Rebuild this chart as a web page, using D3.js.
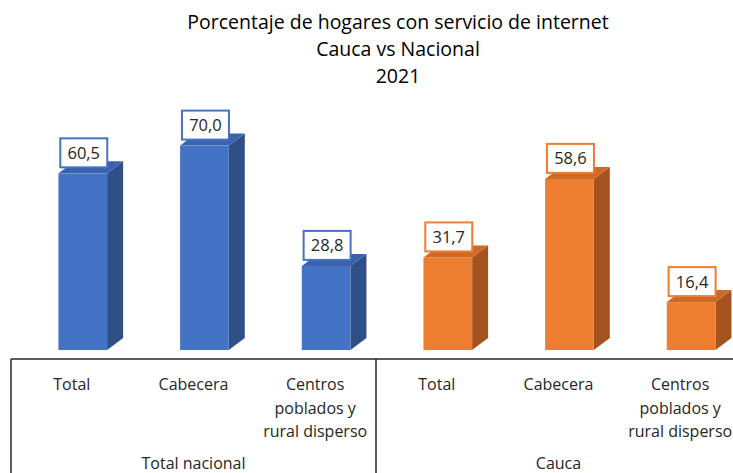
<!DOCTYPE html>
<html>
<head>
<meta charset="utf-8">
<script src="https://cdn.jsdelivr.net/npm/d3@7"></script>
<style>
  body { margin: 0; background: #fff; overflow: hidden; }
  svg text { font-family: "Open Sans", Lato, sans-serif; }
</style>
</head>
<body>
<div id="vis"></div>
<script>
// chart data
var titleLines = ["Porcentaje de hogares con servicio de internet", "Cauca vs Nacional", "2021"],
    groups = ["Total nacional", "Cauca"],
    subCats = [["Total"], ["Cabecera"], ["Centros", "poblados y", "rural disperso"]],
    nacional = [60.5, 70.0, 28.8],
    cauca = [31.7, 58.6, 16.4];

var w = 733,
    h = 473,
    baseY = 350,
    axisY = 359,
    depthX = 16,
    depthY = 12;

var colors = {
    "Total nacional": {front: "#4472C4", side: "#2F4F86", top: "#3A63AD", stroke: "#4472C4"},
    "Cauca": {front: "#ED7D31", side: "#A4531E", top: "#CF6A26", stroke: "#ED7D31"}
};

// flatten into one row per bar
var bars = [];
groups.forEach(function(g, gi) {
    var vals = gi == 0 ? nacional : cauca;
    vals.forEach(function(v, i) {
        bars.push({group: g, idx: gi * 3 + i, cat: subCats[i], value: v});
    });
});

var x = d3.scaleBand().domain(d3.range(6)).range([11, 741]).padding(0),
    bw = x.bandwidth(),
    y = d3.scaleLinear().domain([0, 70]).range([baseY, baseY - 204.4]);

var vis = d3.select("#vis")
            .append("svg")
            .attr("width", w)
            .attr("height", h);

// title
vis.selectAll(".title")
   .data(titleLines)
   .enter()
   .append("text")
   .attr("class", "title")
   .attr("x", 398)
   .attr("y", function(d, i) { return 29 + i * 27; })
   .attr("text-anchor", "middle")
   .attr("font-size", 19.5)
   .attr("fill", "#000")
   .text(String);

// 3D bars: front, side, top
function frontX(d) { return x(d.idx) + bw * 0.39; }
var fw = bw * 0.4;

var g = vis.selectAll(".bar")
           .data(bars)
           .enter()
           .append("g")
           .attr("class", "bar");

g.append("path")
 .attr("fill", function(d) { return colors[d.group].side; })
 .attr("d", function(d) {
     var x1 = frontX(d) + fw, yt = y(d.value);
     return "M" + x1 + "," + baseY + "L" + (x1 + depthX) + "," + (baseY - depthY) +
            "L" + (x1 + depthX) + "," + (yt - depthY) + "L" + x1 + "," + yt + "Z";
 });

g.append("path")
 .attr("fill", function(d) { return colors[d.group].top; })
 .attr("d", function(d) {
     var x0 = frontX(d), yt = y(d.value);
     return "M" + x0 + "," + yt + "L" + (x0 + depthX) + "," + (yt - depthY) +
            "L" + (x0 + fw + depthX) + "," + (yt - depthY) + "L" + (x0 + fw) + "," + yt + "Z";
 });

g.append("rect")
 .attr("fill", function(d) { return colors[d.group].front; })
 .attr("x", frontX)
 .attr("y", function(d) { return y(d.value); })
 .attr("width", fw)
 .attr("height", function(d) { return baseY - y(d.value); });

// value labels in boxes
var fmt = function(v) { return d3.format(".1f")(v).replace(".", ","); };

g.append("rect")
 .attr("x", function(d) { return frontX(d) + fw / 2 + 1 - 23.5; })
 .attr("y", function(d) { return y(d.value) - 35; })
 .attr("width", 47)
 .attr("height", 29)
 .attr("fill", "#fff")
 .attr("stroke", function(d) { return colors[d.group].stroke; })
 .attr("stroke-width", 2);

g.append("text")
 .attr("x", function(d) { return frontX(d) + fw / 2 + 1; })
 .attr("y", function(d) { return y(d.value) - 14.5; })
 .attr("text-anchor", "middle")
 .attr("font-size", 16.5)
 .attr("fill", "#262626")
 .text(function(d) { return fmt(d.value); });

// axis line and group dividers
vis.append("line")
   .attr("x1", 11).attr("x2", w)
   .attr("y1", axisY).attr("y2", axisY)
   .attr("stroke", "#262626")
   .attr("stroke-width", 1.5);

vis.selectAll(".divider")
   .data([0, 3, 6])
   .enter()
   .append("line")
   .attr("class", "divider")
   .attr("x1", function(d) { return d == 6 ? x.range()[1] : x(d); })
   .attr("x2", function(d) { return d == 6 ? x.range()[1] : x(d); })
   .attr("y1", axisY)
   .attr("y2", h)
   .attr("stroke", "#262626")
   .attr("stroke-width", 1.5);

// category labels
var cl = vis.selectAll(".catLabel")
            .data(bars)
            .enter()
            .append("text")
            .attr("class", "catLabel")
            .attr("text-anchor", "middle")
            .attr("font-size", 16)
            .attr("fill", "#262626");

cl.selectAll("tspan")
  .data(function(d) { return d.cat.map(function(t) { return {t: t, cx: x(d.idx) + bw / 2}; }); })
  .enter()
  .append("tspan")
  .attr("x", function(d) { return d.cx; })
  .attr("y", function(d, i) { return 390 + i * 23.5; })
  .text(function(d) { return d.t; });

// group labels
vis.selectAll(".groupLabel")
   .data(groups)
   .enter()
   .append("text")
   .attr("class", "groupLabel")
   .attr("x", function(d, i) { return x(i * 3) + bw * 1.5; })
   .attr("y", 469)
   .attr("text-anchor", "middle")
   .attr("font-size", 16)
   .attr("fill", "#262626")
   .text(String);
</script>
</body>
</html>
